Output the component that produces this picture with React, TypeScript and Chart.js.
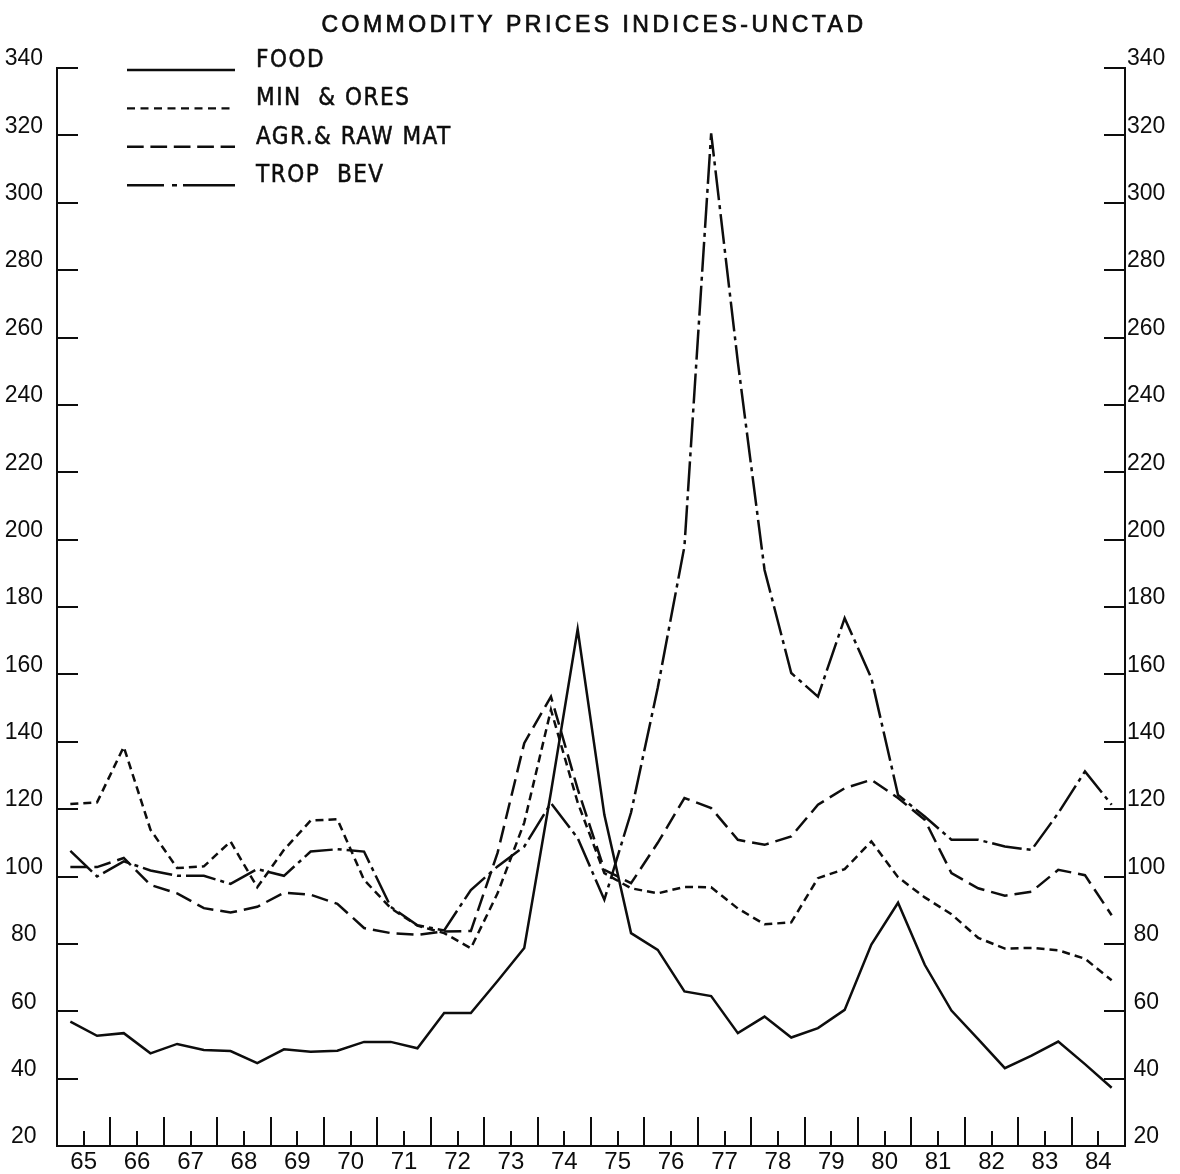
import React, { useEffect, useRef } from 'react';
import { Chart, registerables } from 'chart.js';

Chart.register(...registerables);

// ---- data (half-yearly observations, 1965 H1 .. 1984 H2) ----
const years = ['65', '66', '67', '68', '69', '70', '71', '72', '73', '74', '75', '76', '77', '78', '79', '80', '81', '82', '83', '84'];
const yTickValues = [20, 40, 60, 80, 100, 120, 140, 160, 180, 200, 220, 240, 260, 280, 300, 320, 340];

const food = [56.9, 52.7, 53.5, 47.5, 50.3, 48.5, 48.2, 44.6, 48.7, 48.0, 48.3, 50.9, 50.9, 49.0, 59.5, 59.5, 69.0, 78.8, 125.0, 173.4, 118.3, 83.2, 78.2, 65.9, 64.5, 53.5, 58.4, 52.2, 55.0, 60.4, 79.8, 92.2, 73.8, 60.2, 51.7, 43.1, 46.8, 51.0, 44.3, 37.3];
const minOres = [121.5, 122, 138.5, 113.9, 102.5, 103, 110.4, 96.8, 107.9, 116.6, 117, 99, 90.6, 85.4, 83.2, 78.7, 95, 116, 149.5, 122, 101, 96.5, 95, 96.9, 96.8, 90.5, 85.8, 86.4, 99.5, 102.2, 110.4, 99.8, 93.8, 88.8, 81.8, 78.6, 78.8, 78.1, 75.6, 69.2];
const agrRaw = [102.8, 102.8, 105.5, 97.5, 95, 90.6, 89.3, 91, 95.2, 94.6, 91.9, 84.7, 83.2, 82.7, 83.7, 83.8, 107, 139.6, 153.4, 126, 102, 98, 110, 123.3, 120.3, 110.9, 109.4, 111.9, 121.3, 126.2, 128.7, 123.3, 116.8, 101, 96.5, 94.3, 95.5, 102, 100.4, 88.5];
const tropBev = [107.6, 100, 104.5, 101.8, 100.2, 100.2, 97.8, 102.2, 100.2, 107.4, 108.1, 107.4, 91, 85.5, 84, 96, 103, 108.9, 121.8, 111.4, 93.1, 119, 156, 198, 320.6, 252.7, 191, 160.4, 153.4, 176.7, 158.9, 124.2, 117.8, 110.9, 110.9, 108.9, 107.9, 118.8, 131.2, 121.3];

const seriesNames = ['FOOD', 'MIN  & ORES', 'AGR.& RAW MAT', 'TROP  BEV'];
const chartTitle = 'COMMODITY PRICES INDICES-UNCTAD';

// ---- styles ----
const INK = '#0d0d0d';
const FONT = '"Liberation Sans", Arial, "DejaVu Sans", sans-serif';
const CONDENSED = '"DejaVu Sans Condensed", "Liberation Sans", sans-serif';
const seriesDash: number[][] = [[], [8, 5], [17, 7], [30, 5, 4, 5]];
const legendDash: number[][] = [[], [8, 5.5], [16.7, 6.7], [37, 8, 5, 6, 80]];

const toPoints = (arr: number[]) => arr.map((v, i) => ({ x: i, y: v }));

const decorPlugin = {
  id: 'decor',
  afterDraw(chart: any) {
    const { ctx, chartArea } = chart;
    const { left, right, bottom } = chartArea;
    const xs = chart.scales.x;
    const ys = chart.scales.y;
    ctx.save();
    ctx.strokeStyle = INK;
    ctx.fillStyle = INK;
    ctx.lineWidth = 2;
    ctx.lineCap = 'butt';
    const seg = (x1: number, y1: number, x2: number, y2: number) => {
      ctx.beginPath();
      ctx.moveTo(x1, y1);
      ctx.lineTo(x2, y2);
      ctx.stroke();
    };
    // inward y ticks, both sides
    yTickValues.forEach((v) => {
      const py = Math.round(ys.getPixelForValue(v));
      seg(left, py, left + 21, py);
      seg(right - 21, py, right, py);
    });
    // x ticks: short at mid-year (labelled), long at year boundaries
    years.forEach((_, i) => {
      const pm = Math.round(xs.getPixelForValue(2 * i + 0.5));
      seg(pm, bottom, pm, bottom - 15);
      if (i > 0) {
        const pb = Math.round(xs.getPixelForValue(2 * i - 0.5));
        seg(pb, bottom, pb, bottom - 29);
      }
    });
    // title
    ctx.font = `23px ${FONT}`;
    (ctx as any).letterSpacing = '3.5px';
    ctx.textAlign = 'center';
    ctx.textBaseline = 'alphabetic';
    ctx.lineWidth = 0.7;
    const tx0 = (left + right) / 2 + 3;
    ctx.fillText(chartTitle, tx0, 32);
    ctx.strokeText(chartTitle, tx0, 32);
    // legend
    ctx.font = `24px ${CONDENSED}`;
    (ctx as any).letterSpacing = '1.5px';
    ctx.textAlign = 'left';
    const lx1 = 127;
    const lx2 = 235;
    const tx = 256;
    seriesNames.forEach((name, i) => {
      const base = 67 + i * 38.4;
      ctx.lineWidth = 0.5;
      ctx.fillText(name, tx, base);
      ctx.strokeText(name, tx, base);
      ctx.setLineDash(legendDash[i]);
      ctx.lineWidth = 2.4;
      seg(lx1, base + 3, lx2, base + 3);
      ctx.setLineDash([]);
    });
    ctx.restore();
  },
};

export default function App() {
  const canvasRef = useRef<HTMLCanvasElement | null>(null);

  useEffect(() => {
    const canvas = canvasRef.current;
    if (!canvas) return;
    const mk = (label: string, data: number[], i: number) => ({
      label,
      data: toPoints(data),
      borderColor: INK,
      backgroundColor: INK,
      borderWidth: 2.5,
      borderDash: seriesDash[i],
      pointRadius: 0,
      tension: 0,
      fill: false,
      yAxisID: 'y',
    });
    const chart = new Chart(canvas, {
      type: 'line',
      data: {
        datasets: [
          mk(seriesNames[0], food, 0),
          mk(seriesNames[1], minOres, 1),
          mk(seriesNames[2], agrRaw, 2),
          mk(seriesNames[3], tropBev, 3),
        ],
      },
      options: {
        animation: false,
        responsive: false,
        devicePixelRatio: 1,
        layout: { padding: { top: 68, left: 0, right: 0, bottom: 0 } },
        plugins: {
          legend: { display: false },
          title: { display: false },
          tooltip: { enabled: false },
        },
        scales: {
          x: {
            type: 'linear',
            min: -0.5,
            max: 39.5,
            afterBuildTicks: (scale: any) => {
              scale.ticks = years.map((_, i) => ({ value: 2 * i + 0.5 }));
            },
            afterFit: (scale: any) => {
              scale.height = 28;
            },
            grid: { drawOnChartArea: false, drawTicks: false },
            border: { display: true, color: INK, width: 2 },
            ticks: {
              autoSkip: false,
              maxRotation: 0,
              padding: 2,
              color: INK,
              font: { family: FONT, size: 24 },
              callback: (_v: any, index: number) => years[index],
            },
          },
          y: {
            type: 'linear',
            position: 'left',
            min: 20,
            max: 340,
            afterBuildTicks: (scale: any) => {
              scale.ticks = yTickValues.map((v) => ({ value: v }));
            },
            afterFit: (scale: any) => {
              scale.width = 57;
            },
            grid: { drawOnChartArea: false, drawTicks: false },
            border: { display: true, color: INK, width: 2 },
            ticks: {
              crossAlign: 'center',
              padding: 14,
              labelOffset: -9,
              color: INK,
              font: { family: FONT, size: 23 },
            },
          },
          y2: {
            type: 'linear',
            position: 'right',
            min: 20,
            max: 340,
            afterBuildTicks: (scale: any) => {
              scale.ticks = yTickValues.map((v) => ({ value: v }));
            },
            afterFit: (scale: any) => {
              scale.width = 55;
            },
            grid: { drawOnChartArea: false, drawTicks: false },
            border: { display: true, color: INK, width: 2 },
            ticks: {
              crossAlign: 'center',
              padding: 2,
              labelOffset: -9,
              color: INK,
              font: { family: FONT, size: 23 },
            },
          },
        },
      } as any,
      plugins: [decorPlugin],
    });
    return () => chart.destroy();
  }, []);

  return (
    <div style={{ position: 'absolute', left: 0, top: 0, width: 1180, height: 1174, background: '#ffffff' }}>
      <canvas ref={canvasRef} width={1180} height={1174} style={{ display: 'block' }} />
    </div>
  );
}
